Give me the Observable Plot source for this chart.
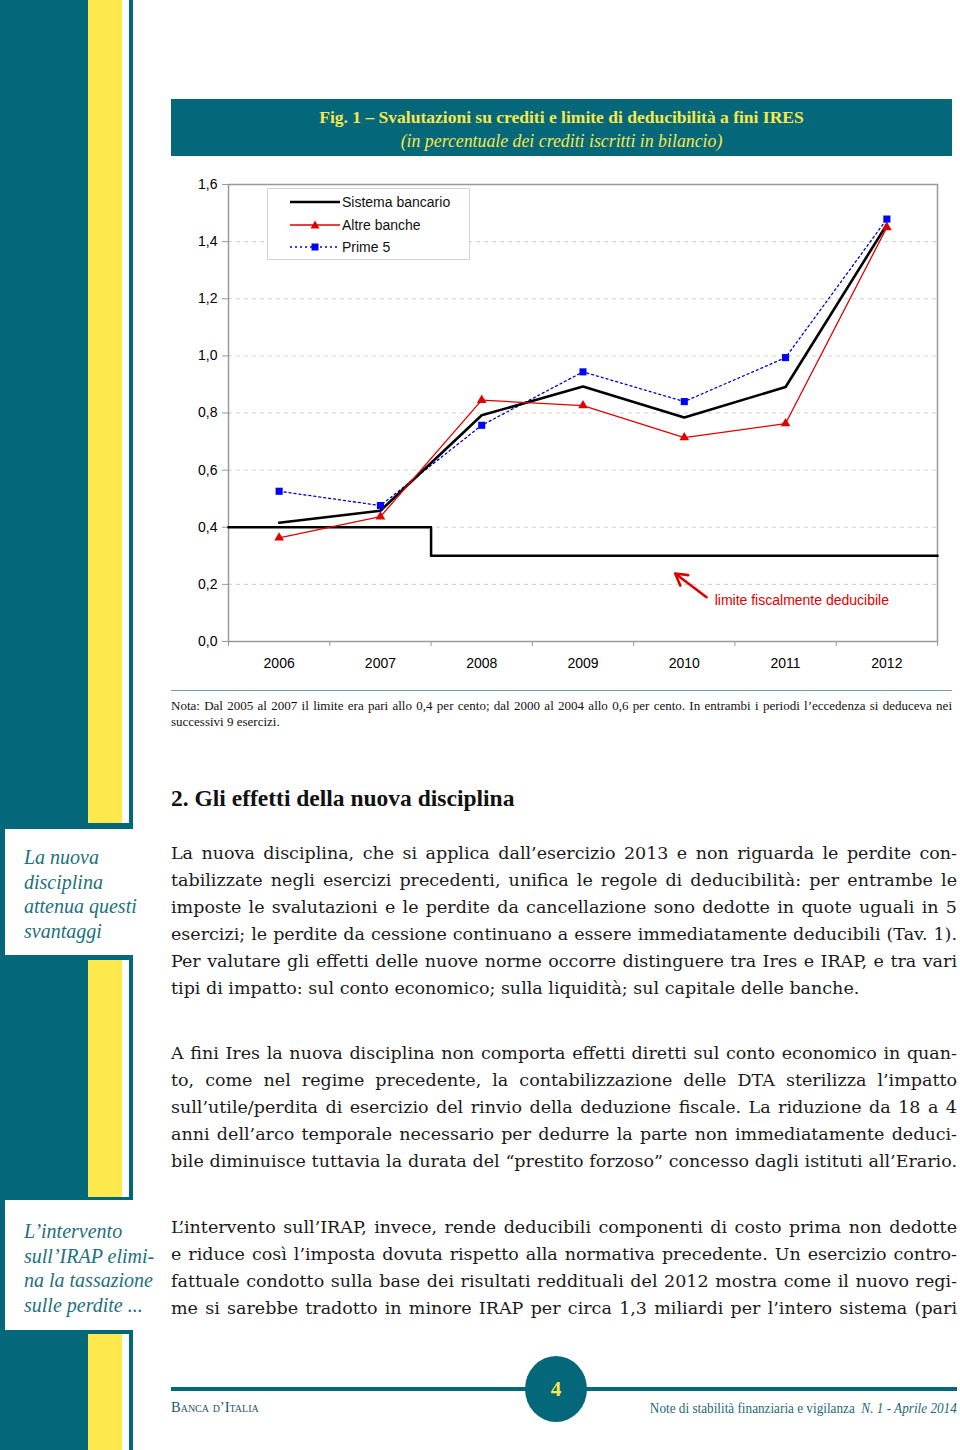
<!DOCTYPE html>
<html><head><meta charset="utf-8">
<script src="https://cdn.jsdelivr.net/npm/d3@7"></script>
<script src="https://cdn.jsdelivr.net/npm/@observablehq/plot@0.6"></script>
<style>
html,body{margin:0;padding:0;}
body{width:960px;height:1450px;position:relative;background:#fff;overflow:hidden;font-family:"Liberation Serif","Times New Roman",serif;color:#111;}
.a{position:absolute;}
.teal{background:#04677a;}
.yel{background:#fde84e;}
.wh{background:#fff;}
.side{position:absolute;left:24px;font-style:italic;font-size:20px;line-height:24.5px;color:#21707c;white-space:nowrap;}
.body{position:absolute;left:171px;width:786px;font-family:"DejaVu Serif",serif;font-size:17.5px;line-height:27px;color:#1a1a1a;}
.body div{white-space:nowrap;text-align:justify;text-align-last:justify;height:27px;}
.body div.last{text-align-last:left;}
.legend{position:absolute;left:267px;top:188px;width:201px;height:70px;border:1px solid #d4d4d4;background:#fff;font-family:"Liberation Sans",Arial,sans-serif;font-size:14px;}
.legend .row{position:absolute;left:22px;height:20px;display:flex;align-items:center;}
.legend svg{display:block;margin-right:2px;}
</style></head><body>

<!-- sidebar -->
<div class="a teal" style="left:0;top:0;width:133px;height:1450px"></div>
<div class="a yel" style="left:88px;top:0;width:34px;height:823px"></div>
<div class="a wh" style="left:122px;top:0;width:7px;height:823px"></div>
<div class="a yel" style="left:88px;top:960px;width:34px;height:237px"></div>
<div class="a wh" style="left:122px;top:960px;width:7px;height:237px"></div>
<div class="a yel" style="left:88px;top:1334px;width:34px;height:116px"></div>
<div class="a wh" style="left:122px;top:1334px;width:7px;height:116px"></div>
<div class="a wh" style="left:5px;top:829px;width:135px;height:126px"></div>
<div class="a wh" style="left:5px;top:1200px;width:135px;height:130px"></div>
<div class="side" style="top:845px">La nuova<br>disciplina<br>attenua questi<br>svantaggi</div>
<div class="side" style="top:1219px">L’intervento<br>sull’IRAP elimi-<br>na la tassazione<br>sulle perdite ...</div>

<!-- title box -->
<div class="a teal" style="left:171px;top:99px;width:781px;height:57px"></div>
<div class="a" id="title" style="left:171px;width:781px;top:106px;text-align:center;color:#f7e84c;font-weight:bold;font-size:17.5px;line-height:22px;white-space:nowrap;">Fig. 1 – Svalutazioni su crediti e limite di deducibilità a fini IRES</div>
<div class="a" id="subtitle" style="left:171px;width:781px;top:130px;text-align:center;color:#f7e84c;font-style:italic;font-size:17.8px;line-height:22px;white-space:nowrap;">(in percentuale dei crediti iscritti in bilancio)</div>

<div id="chart" class="a" style="left:171px;top:160px;"></div>

<div class="legend">
  <div class="row" style="top:3px"><svg width="50" height="12"><line x1="0" y1="6" x2="50" y2="6" stroke="#000" stroke-width="2.5"/></svg>Sistema bancario</div>
  <div class="row" style="top:26px"><svg width="50" height="12"><line x1="0" y1="6" x2="50" y2="6" stroke="#e00000" stroke-width="1.3"/><path d="M25,1.5 L29.5,9.5 L20.5,9.5 Z" fill="#e00000"/></svg>Altre banche</div>
  <div class="row" style="top:48px"><svg width="50" height="12"><line x1="0" y1="6" x2="50" y2="6" stroke="#0000cc" stroke-width="1.3" stroke-dasharray="2,3"/><rect x="21.5" y="2.5" width="7" height="7" fill="#0000ff"/></svg>Prime 5</div>
</div>

<!-- note -->
<div class="a" style="left:171px;top:690px;width:781px;height:1px;background:#6f9ea7"></div>
<div class="a" style="left:171px;top:698px;width:781px;font-size:13px;line-height:16px;">
  <div class="fit" style="white-space:nowrap;text-align:justify;text-align-last:justify;">Nota: Dal 2005 al 2007 il limite era pari allo 0,4 per cento; dal 2000 al 2004 allo 0,6 per cento. In entrambi i periodi l’eccedenza si deduceva nei</div>
  <div>successivi 9 esercizi.</div>
</div>

<div class="a" style="left:171px;top:784px;font-size:23.5px;font-weight:bold;line-height:28px;white-space:nowrap;">2. Gli effetti della nuova disciplina</div>

<div class="body" style="top:840px">
<div>La nuova disciplina, che si applica dall’esercizio 2013 e non riguarda le perdite con-</div>
<div>tabilizzate negli esercizi precedenti, unifica le regole di deducibilità: per entrambe le</div>
<div>imposte le svalutazioni e le perdite da cancellazione sono dedotte in quote uguali in 5</div>
<div>esercizi; le perdite da cessione continuano a essere immediatamente deducibili (Tav. 1).</div>
<div>Per valutare gli effetti delle nuove norme occorre distinguere tra Ires e IRAP, e tra vari</div>
<div class="last">tipi di impatto: sul conto economico; sulla liquidità; sul capitale delle banche.</div>
</div>
<div class="body" style="top:1040px">
<div>A fini Ires la nuova disciplina non comporta effetti diretti sul conto economico in quan-</div>
<div>to, come nel regime precedente, la contabilizzazione delle DTA sterilizza l’impatto</div>
<div>sull’utile/perdita di esercizio del rinvio della deduzione fiscale. La riduzione da 18 a 4</div>
<div>anni dell’arco temporale necessario per dedurre la parte non immediatamente deduci-</div>
<div>bile diminuisce tuttavia la durata del “prestito forzoso” concesso dagli istituti all’Erario.</div>
</div>
<div class="body" style="top:1214px">
<div>L’intervento sull’IRAP, invece, rende deducibili componenti di costo prima non dedotte</div>
<div>e riduce così l’imposta dovuta rispetto alla normativa precedente. Un esercizio contro-</div>
<div>fattuale condotto sulla base dei risultati reddituali del 2012 mostra come il nuovo regi-</div>
<div>me si sarebbe tradotto in minore IRAP per circa 1,3 miliardi per l’intero sistema (pari</div>
</div>

<!-- footer -->
<div class="a teal" style="left:171px;top:1387px;width:786px;height:4px"></div>
<div class="a teal" style="left:525px;top:1356px;width:62px;height:66px;border-radius:50%;"></div>
<div class="a" style="left:525px;top:1376px;width:62px;text-align:center;color:#f7e84c;font-weight:bold;font-size:21px;line-height:26px;">4</div>
<div class="a" style="left:171px;top:1397px;font-size:14.5px;line-height:20px;color:#1d5866;font-variant:small-caps;white-space:nowrap;">Banca d’Italia</div>
<div class="a" style="right:3px;top:1397px;font-size:15px;line-height:22px;color:#1d6a78;white-space:nowrap;"><span style="display:inline-block;transform:scaleX(0.88);transform-origin:right center;">Note di stabilità finanziaria e vigilanza&nbsp; <i>N. 1 - Aprile 2014</i></span></div>

<script>
// ---- data ----
const years = [2006, 2007, 2008, 2009, 2010, 2011, 2012];
const sistemaBancario = [0.416, 0.458, 0.792, 0.893, 0.784, 0.891, 1.46];
const altreBanche = [0.363, 0.437, 0.845, 0.826, 0.714, 0.763, 1.45];
const prime5 = [0.526, 0.476, 0.757, 0.944, 0.840, 0.994, 1.479];
const limiteX = [2005.5, 2007.5, 2012.5];
const limiteY = [0.4, 0.3, 0.3];
const yTicks = [0, 0.2, 0.4, 0.6, 0.8, 1.0, 1.2, 1.4, 1.6];
const gridTicks = [0.2, 0.4, 0.6, 0.8, 1.0, 1.2, 1.4];
const yearBoundaries = [2005.5, 2006.5, 2007.5, 2008.5, 2009.5, 2010.5, 2011.5, 2012.5];
const annotationText = "limite fiscalmente deducibile";
const arrowFrom = [2010.22, 0.155];
const arrowTo = [2009.91, 0.238];
const annotationAt = [2010.3, 0.143];

const toRows = (vals) => years.map((x, i) => ({x, y: vals[i]}));
const sistemaRows = toRows(sistemaBancario);
const altreRows = toRows(altreBanche);
const primeRows = toRows(prime5);
const limiteRows = limiteX.map((x, i) => ({x, y: limiteY[i]}));
const fmt = d => d.toFixed(1).replace(".", ",");

const chart = Plot.plot({
  width: 786,
  height: 520,
  marginLeft: 57,
  marginRight: 20,
  marginTop: 24,
  marginBottom: 39,
  x: {type: "linear", domain: [2005.5, 2012.5]},
  y: {domain: [0, 1.6]},
  style: {fontFamily: "'Liberation Sans', Arial, sans-serif", fontSize: "14px", color: "#000", background: "transparent", overflow: "visible"},
  marks: [
    Plot.ruleY(gridTicks, {stroke: "#cfcfcf", strokeDasharray: "4,4", strokeOpacity: 1}),
    Plot.axisY({ticks: yTicks, tickFormat: fmt, tickSize: 6, tickPadding: 5, stroke: "#999", label: null, fontSize: 14}),
    Plot.axisX({ticks: years, tickFormat: d => String(d), tickSize: 0, tickPadding: 17, label: null, fontSize: 14}),
    Plot.axisX({ticks: yearBoundaries, tickFormat: () => "", tickSize: 5, stroke: "#999", label: null}),
    Plot.frame({stroke: "#9a9a9a", strokeWidth: 1.5}),
    Plot.line(limiteRows, {x: "x", y: "y", curve: "step-after", stroke: "#000", strokeWidth: 2.5}),
    Plot.line(primeRows, {x: "x", y: "y", stroke: "#0000cc", strokeWidth: 1.3, strokeDasharray: "2,3"}),
    Plot.line(sistemaRows, {x: "x", y: "y", stroke: "#000", strokeWidth: 2.6}),
    Plot.line(altreRows, {x: "x", y: "y", stroke: "#e00000", strokeWidth: 1.3}),
    Plot.dot(altreRows, {x: "x", y: "y", symbol: "triangle", fill: "#e00000", r: 3.6}),
    Plot.dot(primeRows, {x: "x", y: "y", symbol: "square", fill: "#0000ff", r: 4}),
    Plot.arrow([{x1: arrowFrom[0], y1: arrowFrom[1], x2: arrowTo[0], y2: arrowTo[1]}],
      {x1: "x1", y1: "y1", x2: "x2", y2: "y2", stroke: "#e00000", strokeWidth: 2.6, headLength: 9, bend: 0}),
    Plot.text([annotationText], {x: annotationAt[0], y: annotationAt[1], text: d => d, textAnchor: "start", fill: "#e00000", fontSize: 14})
  ]
});
document.getElementById("chart").appendChild(chart);

// keep every justified line within its column: tighten letters if a line is too long
document.querySelectorAll(".body div, .fit").forEach(el => {
  const avail = el.clientWidth;
  const r = document.createRange();
  r.selectNodeContents(el);
  const natural = r.getBoundingClientRect().width;
  if (natural > avail) {
    const n = el.textContent.length;
    el.style.letterSpacing = (-(natural - avail + 2) / n) + "px";
  }
});
</script>
</body></html>
